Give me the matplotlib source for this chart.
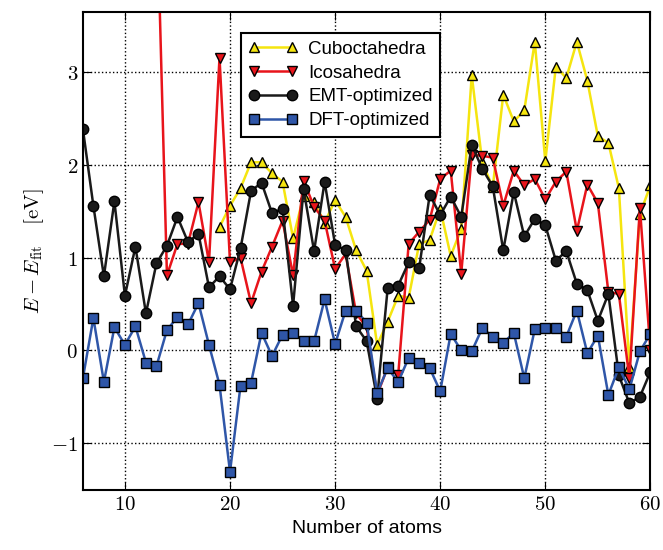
import numpy as np
import matplotlib
matplotlib.use("Agg")
import matplotlib.pyplot as plt

plt.rcParams["mathtext.fontset"] = "cm"

atoms = np.arange(6, 61)

cubo_n = np.arange(19, 61)
cubo = [1.33, 1.56, 1.75, 2.03, 2.03, 1.91, 1.82, 1.21, 1.67, 1.60, 1.38, 1.62,
        1.44, 1.08, 0.86, 0.06, 0.31, 0.59, 0.57, 1.15, 1.19, 1.53, 1.02, 1.31,
        2.97, 2.03, 1.76, 2.76, 2.47, 2.59, 3.33, 2.04, 3.06, 2.94, 3.33, 2.91,
        2.31, 2.24, 1.75, -0.18, 1.47, 1.78]

ico_n = np.arange(13, 61)
ico = [5.0, 0.81, 1.15, 1.15, 1.60, 0.95, 3.16, 0.95, 1.00, 0.51, 0.85, 1.12,
       1.40, 0.81, 1.83, 1.55, 1.40, 0.88, 1.04, 0.40, 0.25, -0.48, -0.18, -0.27,
       1.15, 1.28, 1.41, 1.85, 1.94, 0.83, 2.11, 2.10, 2.08, 1.56, 1.94, 1.78,
       1.85, 1.63, 1.82, 1.93, 1.29, 1.79, 1.59, 0.63, 0.61, -0.30, 1.54, 0.00]

emt = [2.39, 1.56, 0.80, 1.61, 0.59, 1.12, 0.40, 0.94, 1.13, 1.44, 1.17, 1.26,
       0.68, 0.80, 0.66, 1.10, 1.72, 1.81, 1.48, 1.53, 0.48, 1.74, 1.07, 1.82,
       1.14, 1.08, 0.26, 0.10, -0.52, 0.67, 0.70, 0.95, 0.89, 1.68, 1.46, 1.66,
       1.44, 2.22, 1.96, 1.77, 1.08, 1.71, 1.23, 1.42, 1.35, 0.97, 1.07, 0.72,
       0.65, 0.32, 0.61, -0.27, -0.57, -0.50, -0.23]

dft = [-0.30, 0.35, -0.34, 0.25, 0.06, 0.26, -0.13, -0.17, 0.22, 0.36, 0.28, 0.51,
       0.06, -0.37, -1.31, -0.38, -0.35, 0.19, -0.06, 0.17, 0.19, 0.10, 0.10, 0.55,
       0.07, 0.43, 0.43, 0.30, -0.46, -0.19, -0.34, -0.08, -0.13, -0.19, -0.44, 0.18,
       0.00, -0.01, 0.24, 0.15, 0.08, 0.19, -0.30, 0.23, 0.24, 0.24, 0.15, 0.43,
       -0.03, 0.16, -0.48, -0.18, -0.42, -0.01, 0.18]

fig = plt.figure(figsize=(6.63, 5.5), dpi=100)
ax = fig.add_axes([0.125, 0.11, 0.856, 0.868])

mk = dict(ms=7.5, mec="black", mew=1.0, lw=1.8)
ax.plot(cubo_n, cubo, "^-", color="#f5e50f", mfc="#f5e50f", label="Cuboctahedra", **mk)
ax.plot(ico_n, ico, "v-", color="#e8141b", mfc="#e8141b", label="Icosahedra", **mk)
ax.plot(atoms, emt, "o-", color="#1a1a1a", mfc="#1a1a1a", label="EMT-optimized", **mk)
ax.plot(atoms, dft, "s-", color="#2f56a8", mfc="#2f56a8", label="DFT-optimized", **mk)

ax.set_xlim(6, 60)
ax.set_ylim(-1.5, 3.65)
ax.set_xticks([10, 20, 30, 40, 50, 60])
ax.set_yticks([-1, 0, 1, 2, 3])
ax.set_yticklabels([r"$-1$", r"$0$", r"$1$", r"$2$", r"$3$"])
ax.set_xticklabels([r"$10$", r"$20$", r"$30$", r"$40$", r"$50$", r"$60$"])
ax.tick_params(labelsize=15, direction="in", length=6, top=True, right=True)
ax.grid(True, color="black", ls=":", lw=1.0)
for s in ax.spines.values():
    s.set_linewidth(1.5)
ax.set_xlabel("Number of atoms", fontsize=14, family="Liberation Sans")
ax.set_ylabel(r"$E - E_{\rm fit}$   $[\rm eV]$", fontsize=15)

leg = ax.legend(loc="upper left", bbox_to_anchor=(0.262, 0.975), numpoints=2,
                prop={"family": "Liberation Sans", "size": 13.5},
                fancybox=False, edgecolor="black", framealpha=1,
                handlelength=2.6, borderpad=0.4, labelspacing=0.35,
                handletextpad=0.6)
leg.get_frame().set_linewidth(1.5)

fig.savefig("out.png", dpi=100)
